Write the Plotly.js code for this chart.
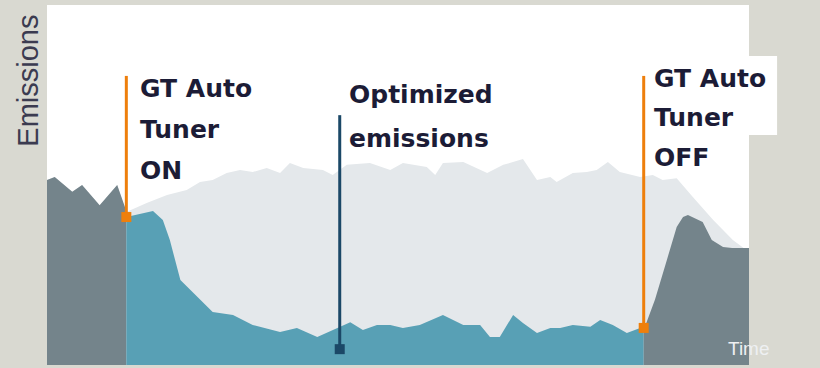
<!DOCTYPE html>
<html>
<head>
<meta charset="utf-8">
<script src="https://cdn.plot.ly/plotly-3.0.1.min.js"></script>
<style>
  html, body { margin: 0; padding: 0; background: #d9d9d1; }
  #chart { width: 820px; height: 368px; }
</style>
</head>
<body>
<div id="chart"></div>
<script>
// Emissions over time (relative units, 0-100 on both axes)

// Uncontrolled emissions for the whole run
const baselineTime = [0, 1.1, 3.6, 5.0, 7.5, 10.0, 11.3, 14.2, 17.1, 19.9, 21.8, 23.6, 25.6, 27.5, 29.3,
  31.3, 33.2, 34.6, 36.5, 39.3, 40.7, 42.7, 46.0, 48.9, 50.7, 54.1, 55.3, 56.4, 59.3, 62.7, 65.0,
  67.8, 69.8, 71.7, 72.6, 74.9, 76.9, 78.3, 79.9, 81.6, 84.5, 86.3, 87.7, 89.7, 92.0, 94.9, 97.7, 100];
const baselineEmissions = [51.4, 52.2, 48.1, 50.0, 44.4, 50.0, 42.5, 45.0, 47.2, 48.6, 50.8, 51.4, 53.3, 54.2, 53.6,
  54.7, 53.3, 56.1, 54.7, 54.2, 52.8, 55.6, 56.1, 54.2, 56.1, 55.0, 52.8, 56.1, 56.4, 53.3, 55.6,
  57.2, 51.4, 52.2, 50.8, 53.3, 53.6, 54.2, 56.4, 53.6, 52.2, 52.8, 51.4, 51.9, 46.7, 40.3, 34.7, 31.4];

// Before the tuner is switched on
const beforeTime = [0, 1.1, 3.6, 5.0, 7.5, 10.0, 11.1, 11.3];
const beforeEmissions = [51.4, 52.2, 48.1, 50.0, 44.4, 50.0, 43.9, 41.7];

// While the tuner is running
const tunedTime = [11.3, 15.1, 16.5, 17.5, 19.0, 21.8, 23.6, 26.5, 29.3, 33.2, 35.6, 38.5, 43.2, 45.0,
  47.0, 48.9, 50.7, 53.1, 56.4, 59.3, 61.7, 63.1, 64.5, 66.4, 67.8, 69.8, 71.7, 73.1, 74.9,
  77.4, 78.8, 80.6, 82.6, 84.5, 85.0];
const tunedEmissions = [41.1, 42.8, 40.3, 34.7, 23.6, 18.1, 14.7, 13.9, 11.1, 9.2, 10.3, 7.8, 11.9, 9.7,
  11.1, 11.1, 10.3, 11.1, 13.9, 11.1, 11.1, 7.8, 7.8, 13.9, 11.7, 8.9, 10.3, 10.3, 11.1,
  10.6, 12.5, 11.1, 8.9, 10.3, 10.3];

// After the tuner is switched off
const afterTime = [85.0, 86.6, 88.3, 89.7, 90.6, 91.3, 93.4, 94.7, 96.3, 97.6, 100];
const afterEmissions = [9.7, 18.1, 29.2, 38.3, 41.1, 41.7, 39.7, 34.7, 32.8, 32.5, 32.5];

// Callout labels
const onLabel = ['GT Auto', 'Tuner', 'ON'];
const offLabel = ['GT Auto', 'Tuner', 'OFF'];
const optimizedLabel = ['Optimized', 'emissions'];
const yLabel = 'Emissions';
const xLabel = 'Time';

// Callout pointers: time of the pointer, top of its stem
const onTime = tunedTime[0];
const offTime = tunedTime[tunedTime.length - 1];
const optimizedTime = 41.7;
const optimizedBottom = 4.4;
const stemTop = 80.3;
const optimizedTop = 69.4;

const GREY_LIGHT = '#e4e8eb';
const GREY_DARK = '#74848b';
const TEAL = '#58a0b5';
const ORANGE = '#ee7f0c';
const NAVY = '#1b4867';
const INK = '#1c1c36';

function area(x, y, color) {
  return { x: x, y: y, type: 'scatter', mode: 'lines', fill: 'tozeroy',
    fillcolor: color, line: { width: 0, color: color }, hoverinfo: 'skip' };
}
function stem(t, yBottom, yTop, color) {
  return { x: [t, t], y: [yBottom, yTop], type: 'scatter', mode: 'lines+markers',
    line: { color: color, width: 3 },
    marker: { symbol: 'square', size: [10, 0], color: color, opacity: 1, line: { width: 0 } },
    cliponaxis: false, hoverinfo: 'skip' };
}

const traces = [
  area(baselineTime, baselineEmissions, GREY_LIGHT),
  area(beforeTime, beforeEmissions, GREY_DARK),
  area(tunedTime, tunedEmissions, TEAL),
  area(afterTime, afterEmissions, GREY_DARK),
  stem(onTime, tunedEmissions[0], stemTop, ORANGE),
  stem(offTime, tunedEmissions[tunedEmissions.length - 1], stemTop, ORANGE),
  stem(optimizedTime, optimizedBottom, optimizedTop, NAVY)
];

const calloutFont = { family: 'DejaVu Sans', size: 25, color: INK, weight: 'bold' };
function lines(labels, x, yFirst, step) {
  return labels.map((txt, i) => ({
    text: txt, x: x, y: yFirst - i * step, xref: 'x', yref: 'y',
    xanchor: 'left', yanchor: 'middle', showarrow: false, font: calloutFont
  }));
}

const annotations = []
  .concat(lines(onLabel, 12.9, 76.7, 11.4))
  .concat(lines(offLabel, 86.2, 79.7, 11.0))
  .concat(lines(optimizedLabel, 42.8, 75.1, 12.2))
  .concat([
    { text: yLabel, xref: 'paper', yref: 'paper', x: -0.027, y: 0.79, textangle: -90,
      xanchor: 'center', yanchor: 'middle', showarrow: false,
      font: { family: 'Liberation Sans, Arial, sans-serif', size: 29, color: '#3b3b50' } },
    { text: xLabel, xref: 'paper', yref: 'paper', x: 0.967, y: 0.045,
      xanchor: 'left', yanchor: 'middle', showarrow: false,
      font: { family: 'Liberation Sans, Arial, sans-serif', size: 19, color: '#eef0f2' } }
  ]);

const hiddenAxis = { showgrid: false, zeroline: false, showline: false, showticklabels: false,
  ticks: '', fixedrange: true };

const layout = {
  width: 820, height: 368,
  margin: { l: 47, r: 71, t: 5, b: 3, pad: 0 },
  paper_bgcolor: '#d9d9d1',
  plot_bgcolor: '#ffffff',
  showlegend: false,
  hovermode: false,
  xaxis: Object.assign({ range: [0, 100] }, hiddenAxis),
  yaxis: Object.assign({ range: [0, 100] }, hiddenAxis),
  shapes: [
    // white backing behind the OFF callout
    { type: 'rect', xref: 'paper', yref: 'paper', x0: 0.857, x1: 1.04, y0: 0.639, y1: 0.858,
      fillcolor: '#ffffff', line: { width: 0 }, layer: 'below' }
  ],
  annotations: annotations
};

Plotly.newPlot('chart', traces, layout, { staticPlot: true, displayModeBar: false });
</script>
</body>
</html>
